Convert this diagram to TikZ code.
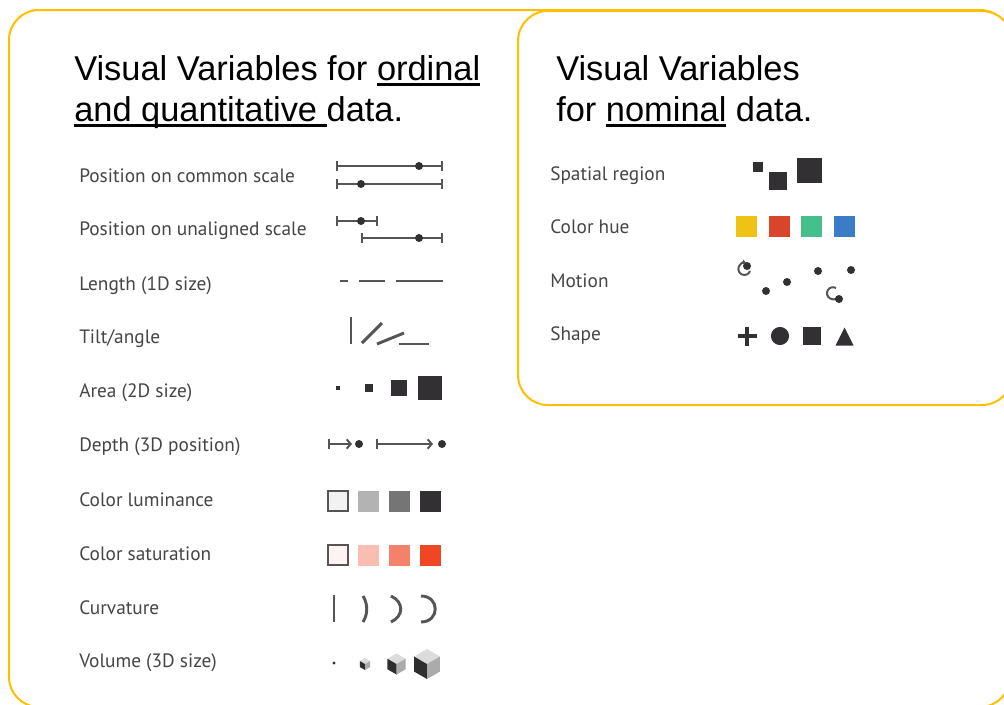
\documentclass[tikz,border=0pt]{standalone}
\usepackage{fontspec}
\setmainfont{Liberation Sans}
\newfontfamily\lblfont{PT Sans}
\usetikzlibrary{arrows.meta}
\definecolor{gold}{HTML}{FFC000}
\definecolor{lblgray}{HTML}{454545}
\definecolor{icogray}{HTML}{555555}
\definecolor{dk}{HTML}{333033}
\definecolor{lum1}{HTML}{F2F2F2}
\definecolor{lum2}{HTML}{B3B3B3}
\definecolor{lum3}{HTML}{757575}
\definecolor{sat1}{HTML}{FDF3F2}
\definecolor{sat2}{HTML}{F9BDB2}
\definecolor{sat3}{HTML}{F4826A}
\definecolor{sat4}{HTML}{EF4726}
\definecolor{hue1}{HTML}{EFC316}
\definecolor{hue2}{HTML}{D9452B}
\definecolor{hue3}{HTML}{45C08D}
\definecolor{hue4}{HTML}{3A7CC6}
\definecolor{cubetop}{HTML}{DCDCDC}
\definecolor{cuberight}{HTML}{ABABAB}
\definecolor{cubeleft}{HTML}{2E2E2E}
\newcommand\myul[1]{\setbox0\hbox{#1}\rlap{\rule[-0.16em]{\wd0}{0.07em}}\box0\relax}
\newcommand\mycube[3]{%
  \fill[cubetop] (#1,{#2-#3}) -- ({#1+0.866*#3},{#2-0.5*#3}) -- (#1,#2) -- ({#1-0.866*#3},{#2-0.5*#3}) -- cycle;
  \fill[cubeleft] ({#1-0.866*#3},{#2-0.5*#3}) -- (#1,#2) -- (#1,{#2+#3}) -- ({#1-0.866*#3},{#2+0.5*#3}) -- cycle;
  \fill[cuberight] (#1,#2) -- ({#1+0.866*#3},{#2-0.5*#3}) -- ({#1+0.866*#3},{#2+0.5*#3}) -- (#1,{#2+#3}) -- cycle;}
\newcommand\sq[4]{\fill[#4] ({#1-#3/2},{#2-#3/2}) rectangle ({#1+#3/2},{#2+#3/2});}
\begin{document}
\begin{tikzpicture}[x=0.75pt,y=-0.75pt,
  frame/.style={draw=gold, line width=1.5pt, rounded corners=22.5pt},
  title/.style={anchor=base west, inner sep=0pt, font=\fontsize{25.8}{30}\selectfont},
  lbl/.style={anchor=base west, inner sep=0pt, text=lblgray, font=\lblfont\fontsize{14.5}{17}\selectfont},
  scl/.style={draw=icogray, line width=1.5pt},
  thick/.style={draw=icogray, line width=2.2pt},
  dot/.style={fill=dk}]
\useasboundingbox (0,0) rectangle (1004,704);
\clip (0,0) rectangle (1004,704);
% frames
\draw[frame, fill=white] (9,10) rectangle (1010,707);
\draw[frame, fill=white] (518,11) rectangle (1012,405);
% titles
\node[title] (t1) at (74,80) {Visual Variables for \myul{ordinal}};
\node[title] (t2) at (74,121) {\myul{and quantitative }data.};
\node[title] (t3) at (556,80) {Visual Variables};
\node[title] (t4) at (556,121) {for \myul{nominal} data.};
% left labels
\node[lbl] (l1) at (79,182) {Position on common scale};
\node[lbl] (l2) at (79,235) {Position on unaligned scale};
\node[lbl] (l3) at (79,290) {Length (1D size)};
\node[lbl] (l4) at (79,343) {Tilt/angle};
\node[lbl] (l5) at (79,397) {Area (2D size)};
\node[lbl] (l6) at (79,451) {Depth (3D position)};
\node[lbl] (l7) at (79,506) {Color luminance};
\node[lbl] (l8) at (79,560) {Color saturation};
\node[lbl] (l9) at (79,614) {Curvature};
\node[lbl] (l10) at (79,667) {Volume (3D size)};
% right labels
\node[lbl] (r1) at (550,180) {Spatial region};
\node[lbl] (r2) at (550,233) {Color hue};
\node[lbl] (r3) at (550,287) {Motion};
\node[lbl] (r4) at (550,340) {Shape};
% position on common scale
\draw[scl, {Bar[width=7.5pt]}-{Bar[width=7.5pt]}] (336,166) -- (443,166);
\fill[dot] (419,166) circle[radius=3pt];
\draw[scl, {Bar[width=7.5pt]}-{Bar[width=7.5pt]}] (336,184) -- (443,184);
\fill[dot] (361,184) circle[radius=3pt];
% unaligned
\draw[scl, {Bar[width=7.5pt]}-{Bar[width=7.5pt]}] (336,221) -- (378,221);
\fill[dot] (361,221) circle[radius=3pt];
\draw[scl, {Bar[width=7.5pt]}-{Bar[width=7.5pt]}] (361,238) -- (443,238);
\fill[dot] (419,238) circle[radius=3pt];
% length
\draw[thick] (340,281) -- (348,281);
\draw[thick] (359,281) -- (385,281);
\draw[thick] (396,281) -- (443,281);
% tilt
\draw[thick] (351,317) -- (351,344);
\draw[thick] (362,343) -- (382,323);
\draw[thick] (377,344) -- (404,333);
\draw[thick] (399,344) -- (429,344);
% area
\sq{338}{388}{4}{dk}
\sq{369}{388}{8}{dk}
\sq{399}{388}{16}{dk}
\sq{430}{388}{24}{dk}
% depth
\draw[scl, {Bar[width=7pt]}-{Straight Barb[length=3pt,width=7pt]}] (328,444) -- (352,444);
\fill[dot] (359,444) circle[radius=3pt];
\draw[scl, {Bar[width=7pt]}-{Straight Barb[length=3pt,width=7pt]}] (376,444) -- (433,444);
\fill[dot] (442,444) circle[radius=3pt];
% color luminance
\draw[draw=icogray, line width=1.5pt, fill=lum1] (328,491) rectangle (348,511);
\sq{368.5}{501}{21}{lum2}
\sq{399}{501}{21}{lum3}
\sq{430}{501}{21}{dk}
% color saturation
\draw[draw=icogray, line width=1.5pt, fill=sat1] (328,545) rectangle (348,565);
\sq{368.5}{555}{21}{sat2}
\sq{399}{555}{21}{sat3}
\sq{430}{555}{21}{sat4}
% curvature
\draw[thick] (334,595) -- (334,622);
\draw[thick] (363,596) .. controls (368,604) and (368,614) .. (363,622);
\draw[thick] (391,596) .. controls (404,602) and (404,616) .. (391,622);
\draw[thick] (421,596) .. controls (440,596) and (440,622) .. (421,622);
% volume
\fill[dk] (334,663) circle[radius=1.2pt];
\mycube{365}{664}{6}
\mycube{396.5}{664}{10.5}
\mycube{427}{664}{15}
% spatial region
\sq{758}{167}{10}{dk}
\sq{778}{180.5}{18}{dk}
\sq{809.5}{170}{25}{dk}
% color hue
\sq{746.5}{226}{21}{hue1}
\sq{779}{226}{21}{hue2}
\sq{811.5}{226}{21}{hue3}
\sq{844}{226}{21}{hue4}
% motion
\fill[dot] (747,266) circle[radius=3pt];
\draw[scl, -{Latex[length=3pt,width=4pt]}] (750,271) arc[start angle=-20, end angle=-290, radius=4.5pt];
\fill[dot] (766,291) circle[radius=3pt];
\fill[dot] (787,282) circle[radius=3pt];
\fill[dot] (818,271) circle[radius=3pt];
\fill[dot] (851,270) circle[radius=3pt];
\draw[scl, -{Latex[length=3pt,width=4pt]}] (836,288) arc[start angle=60, end angle=330, radius=4.5pt];
\fill[dot] (839,299) circle[radius=3pt];
% shapes
\draw[draw=dk, line width=3pt] (737.5,336) -- (756.5,336) (747,326.5) -- (747,345.5);
\fill[dk] (780,336) circle[radius=6.8pt];
\sq{812}{336}{18}{dk}
\fill[dk] (835.5,345.5) -- (853.5,345.5) -- (844.5,327.5) -- cycle;
\end{tikzpicture}
\end{document}
